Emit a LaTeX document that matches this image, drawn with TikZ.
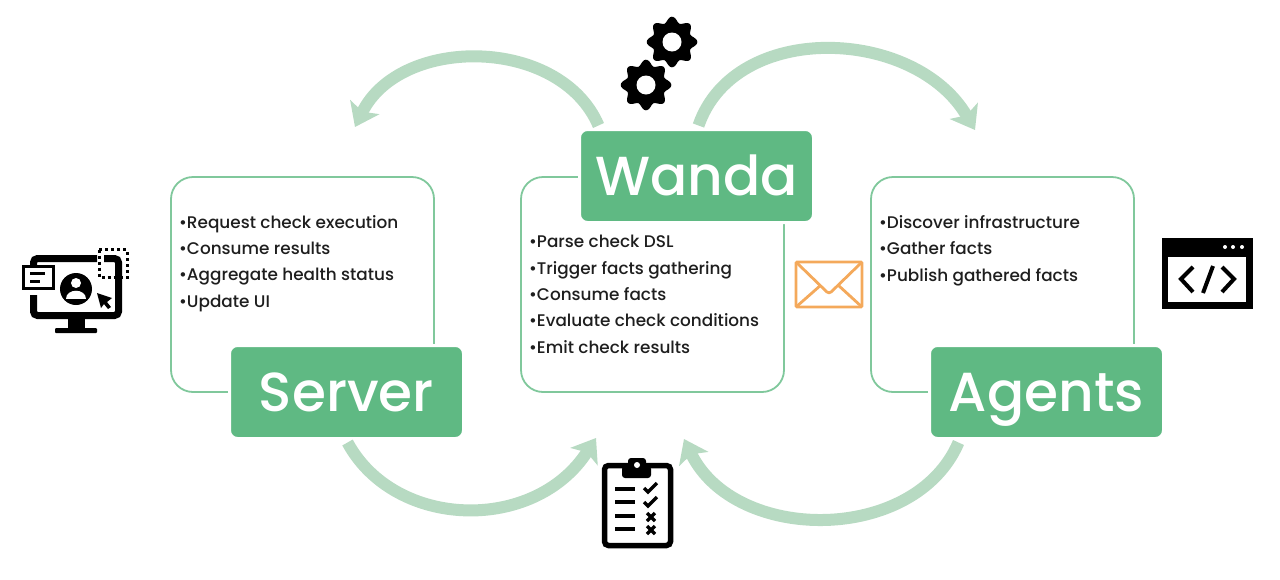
\documentclass[tikz,border=0pt]{standalone}
\usepackage{fontspec}
\setmainfont{Poppins Medium}
\usetikzlibrary{arrows.meta}
\definecolor{titlegreen}{HTML}{5FB983}
\definecolor{panelgreen}{HTML}{80C89C}
\definecolor{flowgreen}{HTML}{B7DAC2}
\definecolor{mailorange}{HTML}{F4A95B}
\definecolor{bodyink}{HTML}{1E1E1E}
\tikzstyle{panel}=[
        draw=panelgreen,
        line width=1.8pt,
        fill=white,
        rounded corners=22pt,
        minimum width=263pt,
        minimum height=215pt
]
\tikzstyle{title}=[
        draw=white,
        line width=3pt,
        fill=titlegreen,
        text=white,
        rounded corners=8pt,
        minimum width=234pt,
        minimum height=93pt,
        text height=38pt,
        text depth=0pt,
        font=\fontsize{55}{60}\selectfont
]
\tikzstyle{duties}=[
        anchor=north west,
        align=left,
        inner sep=0pt,
        text=bodyink,
        font=\fontsize{16.85}{26.4}\selectfont
]
\tikzstyle{flow}=[
        draw=flowgreen,
        line width=12pt,
        -{Stealth[length=22pt,width=32pt,inset=5pt]}
]

\begin{document}
\begin{tikzpicture}[x=1pt,y=-1pt]
    \useasboundingbox (0,0) rectangle (1280,579);

    % flow arrows
    \coordinate (serverin) at (355,127);
    \coordinate (agentsin) at (975,130);
    \coordinate (wandainl) at (596,438);
    \coordinate (wandainr) at (684,439);

    \node[panel] (serverpanel) at (302.5,284.5) {};
    \node[panel] (wandapanel) at (652.5,284.5) {};
    \node[panel] (agentspanel) at (1002.5,284.5) {};

    \node[title] (server) at (346.5,392) {Server};
    \node[title] (wanda) at (696.5,176) {Wanda};
    \node[title] (agents) at (1046.5,392) {Agents};

    \draw[flow] ([xshift=20.5pt,yshift=2.5pt]wanda.north west) .. controls (560,36) and (400,35) .. (serverin);
    \draw[flow] ([xshift=120.5pt,yshift=2.5pt]wanda.north west) .. controls (735,20) and (915,27) .. (agentsin);
    \draw[flow] ([xshift=119.5pt,yshift=-2.5pt]server.south west) .. controls (395,530) and (535,533) .. (wandainl);
    \draw[flow] ([xshift=30.5pt,yshift=-2.5pt]agents.south west) .. controls (915,544) and (735,544) .. (wandainr);

    \node[duties] (serverlist) at (179,215) {•Request check execution\\•Consume results\\•Aggregate health status\\•Update UI};
    \node[duties] (wandalist) at (529,235) {•Parse check DSL\\•Trigger facts gathering\\•Consume facts\\•Evaluate check conditions\\•Emit check results};
    \node[duties] (agentslist) at (879,215) {•Discover infrastructure\\•Gather facts\\•Publish gathered facts};

    % gears
    \foreach \cx/\cy in {672/42,646/85} {
        \fill[black] plot[domain=0:360,samples=120,smooth cycle] ({\cx+(22.5+2.8*cos(8*\x))*cos(\x)},{\cy+(22.5+2.8*cos(8*\x))*sin(\x)});
        \fill[white] (\cx,\cy) circle (9.5);
    }

    % monitor
    \draw[black,line width=7pt,rounded corners=4pt] (33.5,295) -- (33.5,315.5) -- (118.5,315.5) -- (118.5,258.5) -- (104,258.5);
    \draw[black,line width=7pt,rounded corners=4pt] (97,258.5) -- (33.5,258.5) -- (33.5,266);
    \fill[black] (68,319) rectangle (85,328);
    \fill[black,rounded corners=1pt] (55,328) rectangle (97,333);
    \draw[black,line width=3pt,fill=white] (23,266) rectangle (53,288);
    \draw[black,line width=3pt] (30,273) -- (45,273);
    \draw[black,line width=3pt] (30,281) -- (40,281);
    \fill[black] (76,289) circle (16);
    \fill[white] (76,283) circle (5);
    \fill[white] (66,299) .. controls (66,288) and (86,288) .. (86,299) -- cycle;
    \fill[black] (97,293) -- (112,298) -- (107,302) -- (111,307) -- (108,309) -- (104,304) -- (101,308) -- cycle;
    \draw[black,line width=3pt,dash pattern=on 3pt off 3pt] (99,249.5) rectangle (127,277);

    % envelope
    \draw[mailorange,line width=2.8pt,rounded corners=1pt] (796,262) rectangle (862,307);
    \draw[mailorange,line width=2.8pt,rounded corners=3pt] (796,262) -- (829,294) -- (862,262);
    \draw[mailorange,line width=2.8pt] (796,307) -- (821,285);
    \draw[mailorange,line width=2.8pt] (862,307) -- (838,285);

    % code window
    \fill[black] (1162,238) rectangle (1253,309);
    \fill[white] (1168,257) rectangle (1246,302);
    \foreach \dx in {1225,1233,1242} {
        \fill[white] (\dx,247) circle (2);
    }
    \draw[black,line width=4pt] (1193,267) -- (1181,279) -- (1193,292);
    \draw[black,line width=4pt] (1222,267) -- (1234,279) -- (1222,292);
    \draw[black,line width=4pt] (1213,266) -- (1203,293);

    % clipboard
    \draw[black,line width=5.5pt,rounded corners=4pt,fill=white] (604.5,465.5) rectangle (670.5,545.5);
    \fill[black,rounded corners=3pt] (622,478) -- (622,466) -- (628,466) -- (628,458) -- (646,458) -- (646,466) -- (651,466) -- (651,478) -- cycle;
    \fill[white] (637,465) circle (3);
    \foreach \ly in {489,502,516,529} {
        \draw[black,line width=3.5pt] (615,\ly) -- (635,\ly);
    }
    \foreach \ly in {489,503} {
        \draw[black,line width=3.5pt] (644,\ly-1) -- (648,\ly+3) -- (657,\ly-6);
    }
    \foreach \ly in {517,530} {
        \draw[black,line width=3.5pt] (647,\ly-4) -- (655,\ly+4);
        \draw[black,line width=3.5pt] (655,\ly-4) -- (647,\ly+4);
    }
\end{tikzpicture}
\end{document}
